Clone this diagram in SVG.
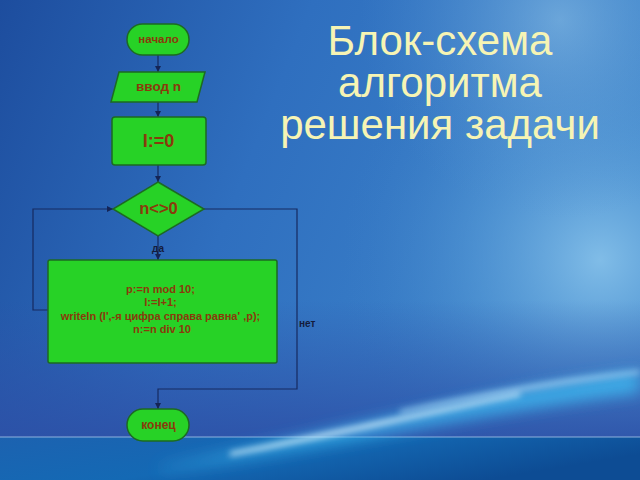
<svg xmlns="http://www.w3.org/2000/svg" width="640" height="480" viewBox="0 0 640 480">
<defs>
<linearGradient id="bg" x1="0" y1="0" x2="1" y2="0.3">
<stop offset="0" stop-color="#1d4d9e"/>
<stop offset="0.45" stop-color="#2f6fbf"/>
<stop offset="1" stop-color="#3e86cc"/>
</linearGradient>
<radialGradient id="glowR" cx="600" cy="260" r="260" gradientUnits="userSpaceOnUse">
<stop offset="0" stop-color="#8cc6ec" stop-opacity="0.85"/>
<stop offset="0.5" stop-color="#5fa2da" stop-opacity="0.45"/>
<stop offset="1" stop-color="#3a7cc4" stop-opacity="0"/>
</radialGradient>
<radialGradient id="glowT" cx="560" cy="20" r="200" gradientUnits="userSpaceOnUse">
<stop offset="0" stop-color="#8cc0e6" stop-opacity="0.6"/>
<stop offset="1" stop-color="#4f8ed0" stop-opacity="0"/>
</radialGradient>
<linearGradient id="lowShade" x1="0" y1="0" x2="0" y2="1">
<stop offset="0" stop-color="#2d4fa6" stop-opacity="0"/>
<stop offset="1" stop-color="#2d4fa6" stop-opacity="0.85"/>
</linearGradient>
<linearGradient id="floor" x1="0" y1="0" x2="1" y2="0.4">
<stop offset="0" stop-color="#1c62b0"/>
<stop offset="0.5" stop-color="#1469b4"/>
<stop offset="1" stop-color="#0d4c94"/>
</linearGradient>
<filter id="blur8" x="-50%" y="-50%" width="200%" height="200%"><feGaussianBlur stdDeviation="8"/></filter>
<filter id="blur3" x="-50%" y="-50%" width="200%" height="200%"><feGaussianBlur stdDeviation="3"/></filter>
<marker id="arr" viewBox="0 0 8 8" refX="8" refY="4" markerWidth="6" markerHeight="6" orient="auto" markerUnits="userSpaceOnUse">
<path d="M0,0 L8,4 L0,8 z" fill="#142456"/>
</marker>
<style>
.node{fill:#27d226;stroke:#1d6a22;stroke-width:1.5}
.lbl{font-family:"Liberation Sans",Arial,sans-serif;font-weight:bold;fill:#8a3a0c;text-anchor:middle}
.edge{fill:none;stroke:#172a60;stroke-width:1.2}
.elbl{font-family:"Liberation Sans",Arial,sans-serif;font-weight:bold;fill:#141c3c;font-size:10px}
.title{font-family:"Liberation Sans",Arial,sans-serif;font-size:42px;fill:#f6f4b4;text-anchor:middle}
</style>
</defs>

<!-- background -->
<rect x="0" y="0" width="640" height="480" fill="url(#bg)"/>
<rect x="0" y="0" width="640" height="480" fill="url(#glowR)"/>
<rect x="0" y="0" width="640" height="480" fill="url(#glowT)"/>
<rect x="0" y="300" width="640" height="137" fill="url(#lowShade)"/>
<rect x="0" y="437" width="640" height="43" fill="url(#floor)"/>
<line x1="0" y1="437" x2="640" y2="437" stroke="#a9c8ec" stroke-width="1" opacity="0.8"/>
<g opacity="0.9">
<path d="M160,468 C300,440 480,392 640,372 L640,392 C480,412 320,448 160,470 z" fill="#3db8f0" filter="url(#blur8)"/>
<path d="M230,452 C340,430 430,410 520,392 L520,396 C430,414 340,436 230,456 z" fill="#d8f4ff" filter="url(#blur3)"/>
<path d="M400,410 C480,392 560,378 640,370 L640,374 C560,384 480,398 400,414 z" fill="#bfe8ff" filter="url(#blur3)" opacity="0.7"/>
</g>

<!-- title -->
<g id="title">
<text class="title" x="440" y="55">Блок-схема</text>
<text class="title" x="440" y="97">алгоритма</text>
<text class="title" x="440" y="139">решения задачи</text>
</g>

<!-- connectors -->
<g id="connectors">
<path class="edge" d="M158,55 L158,72" marker-end="url(#arr)"/>
<path class="edge" d="M158,102 L158,117" marker-end="url(#arr)"/>
<path class="edge" d="M158,165 L158,182" marker-end="url(#arr)"/>
<path class="edge" d="M158,236 L158,260" marker-end="url(#arr)"/>
<path class="edge" d="M48,310 L33,310 L33,209 L113,209" marker-end="url(#arr)"/>
<path class="edge" d="M204,209 L297,209 L297,389 L158,389 L158,409" marker-end="url(#arr)"/>
<text class="elbl" x="158" y="252" text-anchor="middle" font-size="9">да</text>
<text class="elbl" x="299" y="327">нет</text>
</g>

<!-- nodes -->
<g id="start">
<rect class="node" x="127" y="24" width="62" height="31" rx="15.5"/>
<text class="lbl" x="158.5" y="43" font-size="11.5">начало</text>
</g>
<g id="input">
<polygon class="node" points="119,72 205,72 197,102 111,102"/>
<text class="lbl" x="158.5" y="91" font-size="13.5">ввод n</text>
</g>
<g id="init">
<rect class="node" x="112" y="117" width="94" height="48" rx="3"/>
<text class="lbl" x="158.5" y="147" font-size="18">I:=0</text>
</g>
<g id="cond">
<polygon class="node" points="158,182 204,209 158,236 113,209"/>
<text class="lbl" x="158.5" y="214" font-size="16.5">n&lt;&gt;0</text>
</g>
<g id="body">
<rect class="node" x="48" y="260" width="229" height="103" rx="2"/>
<text class="lbl" font-size="11">
<tspan x="162" y="293">p:=n mod 10;</tspan>
<tspan x="162" y="306">I:=I+1;</tspan>
<tspan x="162" y="320">writeln (I',-я цифра справа равна' ,p);</tspan>
<tspan x="162" y="333">n:=n div 10</tspan>
</text>
</g>
<g id="end">
<rect class="node" x="127" y="409" width="62" height="32" rx="16"/>
<text class="lbl" x="158.5" y="429" font-size="12">конец</text>
</g>
</svg>
